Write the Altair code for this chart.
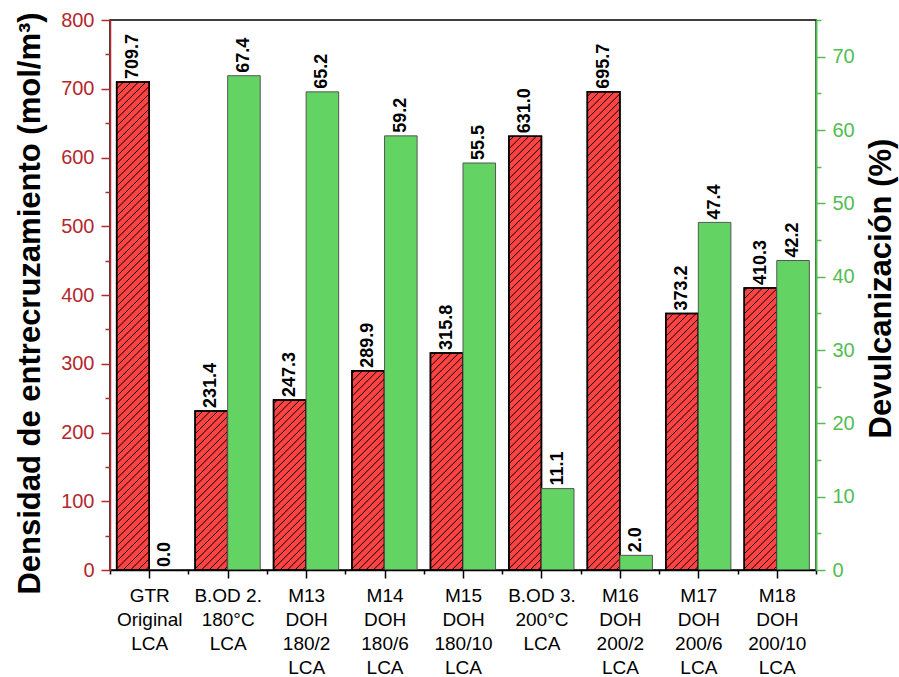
import altair as alt
import pandas as pd

# Sample names, one entry per line of the axis label
sample_lines = [
    ["GTR", "Original", "LCA"],
    ["B.OD 2.", "180°C", "LCA"],
    ["M13", "DOH", "180/2", "LCA"],
    ["M14", "DOH", "180/6", "LCA"],
    ["M15", "DOH", "180/10", "LCA"],
    ["B.OD 3.", "200°C", "LCA"],
    ["M16", "DOH", "200/2", "LCA"],
    ["M17", "DOH", "200/6", "LCA"],
    ["M18", "DOH", "200/10", "LCA"],
]
# Crosslink density (mol/m3) and devulcanization degree (%)
crosslink = [709.7, 231.4, 247.3, 289.9, 315.8, 631.0, 695.7, 373.2, 410.3]
devulc = [0.0, 67.4, 65.2, 59.2, 55.5, 11.1, 2.0, 47.4, 42.2]

# Layout constants
PLOT_W, PLOT_H = 706, 550
N = len(sample_lines)
RED_MAX, GREEN_MAX = 800, 75
BAR = 0.415                      # bar width in category units
PX = PLOT_W / N                  # pixels per category unit
PY = PLOT_H / RED_MAX            # pixels per mol/m3
BAR_PX = BAR * PX
HATCH_GAP = 7.5                  # horizontal spacing of hatch lines (px)

FONT = "Liberation Sans"
RED_AXIS = "#b3282d"
GREEN_AXIS = "#52bd52"
RED_FILL = "#ff4343"
GREEN_FILL = "#63d463"

df = pd.DataFrame({
    "pos": [i + 0.5 for i in range(N)],
    "crosslink": crosslink,
    "devulc": devulc,
})

label_array = "[" + ",".join("'" + "|".join(lines) + "'" for lines in sample_lines) + "]"
x_label_expr = f"datum.value % 1 === 0 ? '' : split({label_array}[floor(datum.value)], '|')"

x_scale = alt.Scale(domain=[0, N], nice=False, zero=False)
x_axis = alt.Axis(
    values=[i * 0.5 for i in range(2 * N + 1)],
    labelExpr=x_label_expr,
    tickSize={"condition": {"test": "datum.value % 1 !== 0", "value": 8}, "value": 4},
    labelFont=FONT, labelFontSize=19, labelLineHeight=24, labelColor="black",
    labelBaseline="top", labelPadding=8,
    labelOverlap=False, labelFlush=False, labelBound=False,
    domainColor="black", domainWidth=1.5, tickColor="black", tickWidth=1.5,
    title=None, grid=False, zindex=1,
)

red_scale = alt.Scale(domain=[0, RED_MAX], nice=False, zero=True)
red_axis = alt.Axis(
    values=list(range(0, RED_MAX + 1, 50)),
    labelExpr="datum.value % 100 === 0 ? datum.label : ''",
    tickSize={"condition": {"test": "datum.value % 100 === 0", "value": 9}, "value": 5},
    domainColor=RED_AXIS, domainWidth=1.5, tickColor=RED_AXIS, tickWidth=1.5,
    labelColor=RED_AXIS, labelFont=FONT, labelFontSize=20, labelPadding=7,
    title="Densidad de entrecruzamiento (mol/m³)",
    titleFont=FONT, titleFontSize=31, titleFontWeight="bold", titleColor="black",
    titleAngle=270, titleAlign="center", titleBaseline="middle",
    titleX=-80, titleY=283,
    grid=False, zindex=1, labelOverlap=False,
)

green_scale = alt.Scale(domain=[0, GREEN_MAX], nice=False, zero=True)
green_axis = alt.Axis(
    orient="right",
    values=list(range(0, GREEN_MAX + 1, 5)),
    labelExpr="datum.value % 10 === 0 ? datum.label : ''",
    tickSize={"condition": {"test": "datum.value % 10 === 0", "value": 9}, "value": 5},
    domainColor=GREEN_AXIS, domainWidth=2, tickColor=GREEN_AXIS, tickWidth=1.5,
    labelColor=GREEN_AXIS, labelFont=FONT, labelFontSize=20, labelPadding=7,
    title="Devulcanización (%)",
    titleFont=FONT, titleFontSize=31, titleFontWeight="bold", titleColor="black",
    titleAngle=270, titleAlign="center", titleBaseline="middle",
    titleX=65, titleY=268,
    grid=False, zindex=1, labelOverlap=False,
)

base = alt.Chart(df)

# Crosslink density bars (left axis)
red_left = f"datum.pos - {BAR}"
red_bars = base.mark_bar(fill=RED_FILL, stroke="black", strokeWidth=1.5).transform_calculate(
    x0=red_left
).encode(
    x=alt.X("x0:Q", scale=x_scale, axis=x_axis),
    x2="pos:Q",
    y=alt.Y("crosslink:Q", scale=red_scale, axis=red_axis),
    y2=alt.datum(0),
)

# Diagonal hatch lines clipped to each red bar
hatch = base.mark_rule(stroke="black", strokeWidth=1).transform_calculate(
    k="sequence(0, 120)"
).transform_flatten(["k"]).transform_calculate(
    h=f"datum.crosslink * {PY}"
).transform_calculate(
    c=f"(datum.k + 0.5) * {HATCH_GAP} - {BAR_PX}"
).transform_calculate(
    u0="max(0, -datum.c)"
).transform_calculate(
    u1=f"min({BAR_PX}, datum.h - datum.c)"
).transform_filter("datum.u1 > datum.u0").transform_calculate(
    hx0=f"datum.pos - {BAR} + datum.u0 / {PX}"
).transform_calculate(
    hx1=f"datum.pos - {BAR} + datum.u1 / {PX}"
).transform_calculate(
    hy0=f"(datum.u0 + datum.c) / {PY}"
).transform_calculate(
    hy1=f"(datum.u1 + datum.c) / {PY}"
).encode(
    x=alt.X("hx0:Q", scale=x_scale, axis=x_axis),
    x2="hx1:Q",
    y=alt.Y("hy0:Q", scale=red_scale, axis=red_axis),
    y2="hy1:Q",
)

red_outline = base.mark_bar(fillOpacity=0, stroke="black", strokeWidth=1.5).transform_calculate(
    x0=red_left
).encode(
    x=alt.X("x0:Q", scale=x_scale, axis=x_axis),
    x2="pos:Q",
    y=alt.Y("crosslink:Q", scale=red_scale, axis=red_axis),
    y2=alt.datum(0),
)

red_text = base.mark_text(
    angle=270, align="left", baseline="middle", dx=3,
    font=FONT, fontSize=18, fontWeight="bold", color="black",
).transform_calculate(
    xc=f"datum.pos - {BAR / 2}"
).encode(
    x=alt.X("xc:Q", scale=x_scale, axis=x_axis),
    y=alt.Y("crosslink:Q", scale=red_scale, axis=red_axis),
    text=alt.Text("crosslink:Q", format=".1f"),
)

# Devulcanization bars (right axis)
green_bars = base.mark_bar(fill=GREEN_FILL, stroke="#555555", strokeWidth=1).transform_calculate(
    x1=f"datum.pos + {BAR}"
).encode(
    x=alt.X("pos:Q", scale=x_scale, axis=x_axis),
    x2="x1:Q",
    y=alt.Y("devulc:Q", scale=green_scale, axis=green_axis),
    y2=alt.datum(0),
)

green_text = base.mark_text(
    angle=270, align="left", baseline="middle", dx=3,
    font=FONT, fontSize=18, fontWeight="bold", color="black",
).transform_calculate(
    xc=f"datum.pos + {BAR / 2}"
).encode(
    x=alt.X("xc:Q", scale=x_scale, axis=x_axis),
    y=alt.Y("devulc:Q", scale=green_scale, axis=green_axis),
    text=alt.Text("devulc:Q", format=".1f"),
)

left = alt.layer(red_bars, hatch, red_outline, red_text)
right = alt.layer(green_bars, green_text)

chart = alt.layer(left, right).resolve_scale(y="independent").properties(
    width=PLOT_W,
    height=PLOT_H,
    autosize=alt.AutoSizeParams(type="none"),
    padding={"left": 110, "top": 20, "right": 83, "bottom": 107},
).configure_view(stroke="black", strokeWidth=1.5)

chart.save("out.html", embed_options={"renderer": "svg", "actions": False})
